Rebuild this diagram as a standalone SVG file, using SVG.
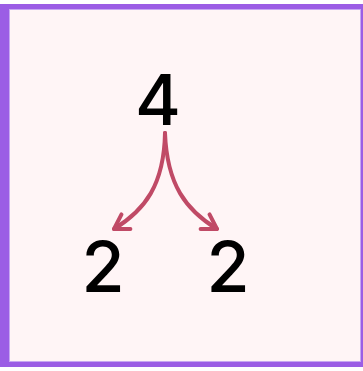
<svg xmlns="http://www.w3.org/2000/svg" width="363" height="371" viewBox="0 0 363 371">
<style>
.num{font-family:Inter,"Liberation Sans",sans-serif;font-weight:500;font-size:70px;fill:#000;text-anchor:middle}
.conn{fill:none;stroke:#C04A66;stroke-width:4;stroke-linecap:round}
</style>
<defs>
<marker id="ah" markerUnits="userSpaceOnUse" markerWidth="40" markerHeight="40" refX="0" refY="0" viewBox="-20 -20 40 40" orient="auto" overflow="visible">
<path d="M-14,-8.5 L0,0 L-14,8.5" fill="none" stroke="#C04A66" stroke-width="4" stroke-linecap="round" stroke-linejoin="round"/>
</marker>
</defs>
<rect x="0" y="4" width="363" height="363" fill="#9B5DE5"/>
<rect x="9.5" y="9.5" width="351" height="352" fill="#FFF5F6" stroke="#C7A8F2" stroke-width="1"/>
<g id="connectors">
<path class="conn" d="M165,133 C164,185 145,210 114,229" marker-end="url(#ah)"/>
<path class="conn" d="M165,133 C167,185 186,210 217,229" marker-end="url(#ah)"/>
</g>
<g id="n4"><text class="num" x="158" y="125">4</text></g>
<g id="n2a"><text class="num" x="103" y="292">2</text></g>
<g id="n2b"><text class="num" x="228" y="292">2</text></g>
</svg>
